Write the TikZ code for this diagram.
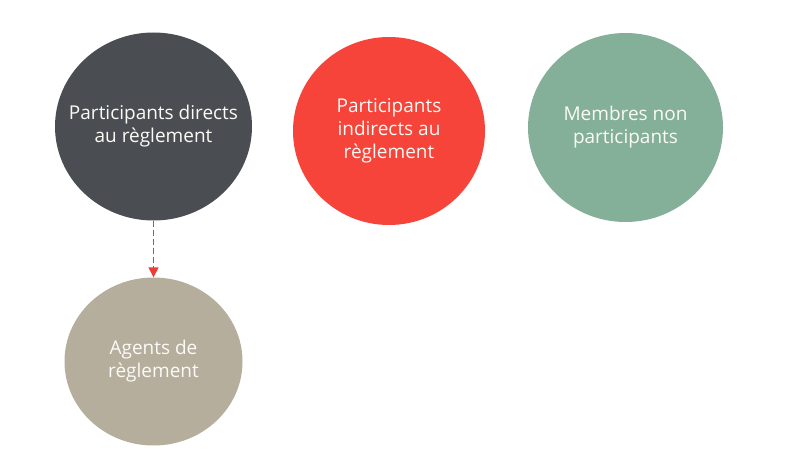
\documentclass[tikz,border=0pt]{standalone}
\usepackage{fontspec}
\setmainfont{Open Sans}
\usetikzlibrary{arrows.meta,shapes.geometric}
\definecolor{cdark}{HTML}{4A4D52}
\definecolor{cred}{HTML}{F6443A}
\definecolor{cgreen}{HTML}{84B09A}
\definecolor{cbeige}{HTML}{B5AE9C}
\definecolor{carrow}{HTML}{EE3B33}
\definecolor{ctext}{HTML}{FBFAF6}
\tikzset{
  bubble/.style={ellipse, inner sep=0pt},
  caption/.style={text=ctext, align=center, inner sep=0pt,
    font=\fontsize{19}{23}\selectfont},
  link/.style={draw=carrow, dash pattern=on 6pt off 3pt, line width=1.4pt,
    -{Triangle[length=10pt,width=10pt]}}
}
\begin{document}
\begin{tikzpicture}[x=1pt,y=1pt]
\useasboundingbox[fill=white] (0,0) rectangle (800,459);
\node[bubble, fill=cdark, minimum width=197pt, minimum height=188pt] (pd) at (153.5,332.5) {};
\node[bubble, fill=cred, minimum width=192pt, minimum height=188pt] (pi) at (389,328) {};
\node[bubble, fill=cgreen, minimum width=195pt, minimum height=189pt] (mn) at (625.5,331.5) {};
\node[bubble, fill=cbeige, minimum width=178pt, minimum height=168pt] (ag) at (153.5,97.5) {};
\node[caption] (pdt) at (pd.center) {Participants directs\\au règlement};
\node[caption] (pit) at (pi.center) {Participants\\indirects au\\règlement};
\node[caption] (mnt) at (mn.center) {Membres non\\participants};
\node[caption] (agt) at (ag.center) {Agents de\\règlement};
\draw[link] (pd.south) -- (ag.north);
\end{tikzpicture}
\end{document}
